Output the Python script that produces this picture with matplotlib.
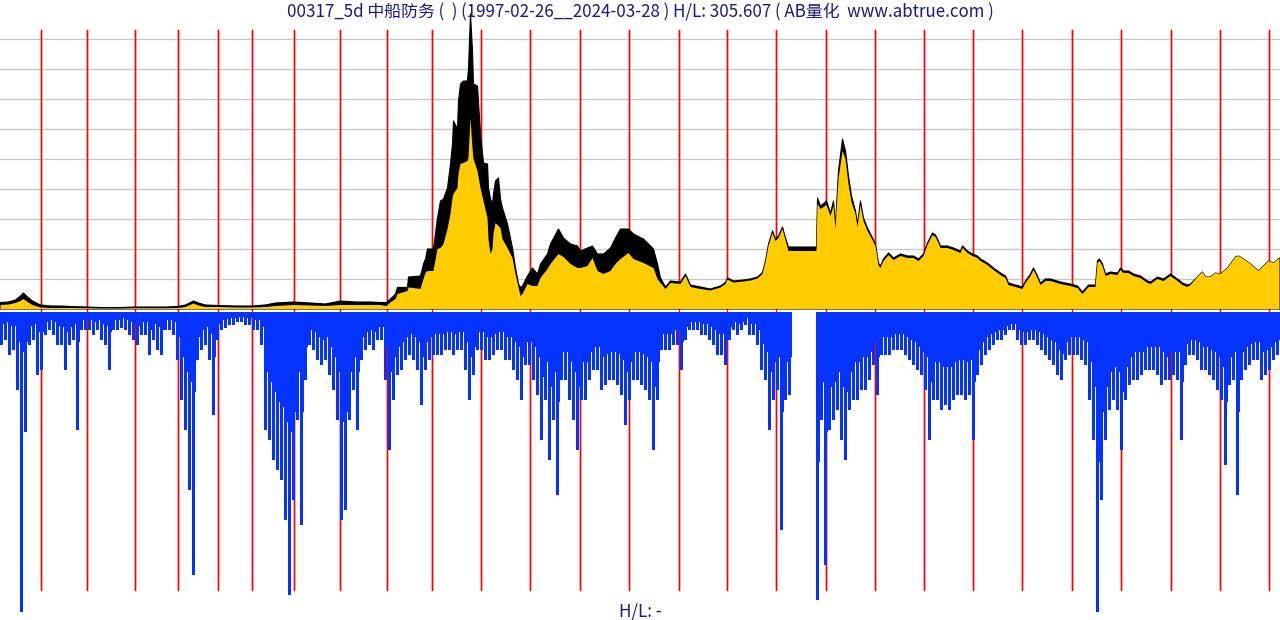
import matplotlib
matplotlib.use("Agg")
import matplotlib.pyplot as plt
import numpy as np

plt.rcParams['font.family'] = ['Noto Sans CJK SC', 'DejaVu Sans']

# ---------------- data ----------------
title = "00317_5d 中船防务 (  ) (1997-02-26__2024-03-28 ) H/L: 305.607 ( AB量化  www.abtrue.com )"
footer = "H/L: -"

# bar index where each calendar year (1998 ... 2024) starts
year_starts = [40, 86, 134, 177, 217, 251, 293, 339, 386, 431, 480, 529, 579, 628,
               678, 726, 775, 825, 874, 923, 972, 1021, 1071, 1120, 1170, 1219, 1268]

grid_levels = [30, 60, 90, 120, 150, 180, 210, 240, 270]

# price key points (bar index, high band, low band)
p_idx = [0, 8, 15, 20, 23, 27, 32, 40, 50, 60, 70, 86, 100, 120, 134, 150, 165, 177, 185, 193,
         198, 205, 217, 235, 251, 265, 275, 293, 310, 325, 340, 355, 370, 380, 386, 390, 395, 397,
         407, 408, 420, 423, 425, 427, 433, 437, 440, 443, 447, 450, 452, 453, 457, 458, 460, 463,
         467, 468, 470, 472, 473, 477, 480, 483, 487, 488, 490, 492, 493, 495, 498, 500, 502, 507,
         512, 515, 518, 520, 522, 527, 532, 537, 540, 547, 550, 558, 563, 570, 577, 580, 587, 592,
         597, 603, 610, 615, 620, 628, 633, 643, 653, 657, 660, 665, 670, 680, 685, 690, 700, 710,
         720, 725, 727, 733, 743, 750, 757, 762, 765, 768, 772, 775, 778, 782, 785, 788, 816, 817,
         820, 826, 830, 833, 835, 838, 842, 845, 848, 851, 855, 857, 860, 863, 867, 872, 875, 878,
         880, 883, 888, 893, 900, 907, 913, 918, 923, 927, 932, 935, 938, 940, 947, 953, 960, 962,
         967, 972, 977, 980, 987, 993, 1000, 1005, 1008, 1015, 1022, 1025, 1030, 1033, 1037, 1040,
         1045, 1050, 1060, 1070, 1077, 1082, 1088, 1095, 1097, 1099, 1102, 1105, 1110, 1117, 1120,
         1123, 1128, 1133, 1140, 1147, 1150, 1157, 1163, 1170, 1177, 1182, 1187, 1190, 1197, 1202,
         1205, 1210, 1215, 1220, 1227, 1230, 1235, 1238, 1243, 1250, 1258, 1263, 1268, 1273, 1279]

p_high = [6.5, 7, 9, 13, 16, 12, 8, 4, 3, 3, 2.5, 2, 1.5, 1.5, 2, 2, 2, 2.5, 4, 8,
          6, 4, 3.5, 3, 3, 4, 6, 7, 6, 5, 8, 7, 7, 6.5, 6.5, 10, 15, 21.6,
          21.6, 32, 33, 45, 50, 60, 60, 91, 108, 110, 121, 145, 165, 188, 180, 208, 225, 228,
          228, 241, 295, 258, 225, 223, 175, 146, 145, 121, 110, 105, 115, 128, 131, 110, 101, 85,
          61, 41, 25, 21.6, 23, 33, 41, 35, 45, 55, 65, 80, 71, 65, 63, 58, 61, 63,
          55, 55, 61, 71, 80, 80, 75, 70, 60, 45, 31, 22, 28, 27, 35, 24, 22, 20,
          23, 26.6, 31, 28, 29, 30, 32, 36.6, 48, 65, 78, 70, 73, 82, 71, 62, 62, 111,
          103, 108, 96, 108, 83, 138, 170, 158, 133, 113, 98, 85, 108, 91, 81, 71, 65, 46,
          43, 50, 56, 51, 55, 53, 53, 50, 55, 66, 76, 74, 68, 63, 63, 61, 58, 63,
          58, 55, 53, 50, 46, 41, 36, 33, 26, 24, 22, 28, 35, 41, 33, 26,
          30, 30, 27, 25, 23, 17, 24, 24, 48, 50, 45, 35, 37, 36, 41,
          38, 38, 35, 33, 28, 27, 32, 30, 35, 30, 26, 24, 25, 32, 37,
          32, 32, 36, 35, 41, 45, 52, 53, 50, 45, 38, 43, 48, 46, 51]

p_low = [4, 4.5, 6, 8, 10, 7, 4, 1.5, 1, 1, 1, 0.8, 0.5, 0.5, 0.8, 0.8, 0.8, 1, 2, 5.5,
         3.5, 2, 2, 1.5, 1.5, 2, 3, 4, 3.5, 3, 4, 4, 4, 4, 3, 6.6, 10, 15,
         18, 21.6, 20, 30, 36, 38, 38, 60, 61, 65, 80, 95, 111, 115, 121, 135, 145, 146,
         148, 151, 191, 161, 150, 138, 121, 108, 91, 70, 55, 60, 75, 86, 83, 81, 70, 61,
         51, 35, 22, 13, 15, 25, 23, 23, 31, 40, 45, 55, 52, 45, 41, 41, 43, 51,
         38, 35, 38, 45, 50, 56, 50, 46, 41, 30, 26, 20, 26, 25, 33, 22, 20, 18.5,
         21.5, 25, 29.5, 26.5, 27.5, 28.5, 30.5, 35, 46.5, 63, 76, 68, 71, 80, 69, 58, 58, 105,
         100, 104, 93, 103, 80, 130, 158, 150, 125, 107, 95, 82, 104, 88, 78, 69, 63, 44,
         41, 48, 54, 49, 53, 51, 51, 48, 53, 64, 74, 72, 66, 61, 61, 59, 56, 61,
         56, 53, 51, 48, 44, 39, 34, 31, 24, 22, 20, 26, 33, 39, 31, 24,
         28, 28, 25, 23, 21, 15, 22, 22, 46, 48, 43, 33, 35, 34, 39,
         36, 36, 33, 31, 26, 25, 30, 28, 33, 28, 24, 22, 24, 32, 37,
         32, 32, 36, 35, 41, 45, 52, 53, 50, 45, 38, 43, 48, 46, 51]

# volume per 4-bar group: peak value and the lowest (common) value of the group
vol_peak = [33, 28, 43, 38, 78, 300, 120, 33, 28, 63, 58, 23, 18, 23, 33, 33, 58, 33, 28, 118,
            18, 18, 18, 23, 18, 28, 33, 58, 18, 18, 16, 18, 23, 28, 33, 23, 23, 43, 28, 38,
            43, 18, 18, 23, 48, 88, 118, 178, 263, 48, 38, 33, 48, 103, 28, 18, 16, 13, 13, 10,
            10, 13, 13, 18, 18, 33, 118, 128, 148, 158, 168, 208, 283, 188, 108, 213, 68, 33, 38, 48,
            53, 48, 63, 78, 108, 208, 198, 108, 78, 118, 48, 38, 33, 38, 28, 28, 68, 138, 88, 63,
            58, 48, 43, 48, 58, 93, 58, 48, 43, 43, 43, 38, 38, 43, 38, 38, 58, 88, 63, 38,
            38, 48, 48, 43, 38, 38, 48, 48, 58, 68, 88, 53, 53, 68, 83, 128, 88, 148, 108, 183,
            68, 68, 88, 108, 138, 88, 88, 68, 58, 58, 78, 73, 68, 68, 73, 83, 113, 88, 68, 68,
            73, 78, 88, 138, 88, 38, 38, 38, 33, 33, 58, 28, 18, 18, 18, 23, 23, 28, 33, 43,
            43, 53, 28, 18, 23, 18, 13, 23, 23, 33, 58, 68, 118, 88, 78, 218, 88, 83, 0, 0,
            0, 0, 0, 0, 288, 108, 253, 118, 108, 98, 128, 148, 98, 88, 88, 78, 78, 68, 53, 83,
            43, 43, 43, 38, 38, 38, 43, 48, 53, 58, 63, 78, 128, 88, 88, 98, 93, 98, 88, 83,
            83, 88, 83, 128, 63, 53, 43, 38, 33, 28, 28, 23, 18, 18, 28, 33, 33, 28, 28, 33,
            38, 43, 48, 53, 63, 68, 48, 43, 43, 43, 48, 53, 88, 128, 300, 188, 128, 98, 88, 98,
            138, 88, 73, 68, 68, 63, 58, 58, 58, 63, 73, 68, 68, 63, 68, 128, 53, 43, 43, 48,
            58, 58, 63, 68, 78, 88, 153, 73, 68, 183, 68, 58, 53, 48, 48, 68, 63, 58, 48, 43]

vol_base = [12, 10, 14, 14, 30, 40, 30, 14, 12, 20, 20, 10, 8, 10, 14,
            15, 20, 15, 12, 30, 8, 8, 8, 10, 8, 12, 14, 20, 8, 8, 6, 8, 10, 12, 14, 10, 10, 18, 12, 15,
            18, 8, 8, 10,
            25, 45, 60, 70, 80, 25,
            18, 15, 22, 45, 12, 8, 7, 6, 6, 5, 5, 6, 6, 8, 8, 15,
            60, 70, 80, 90, 95, 110, 120, 100, 60, 100,
            35, 18, 20, 25, 28, 25, 35,
            45, 60, 110, 100, 60, 45,
            60, 25, 20, 18, 20, 15, 15,
            35, 60, 45, 35,
            30, 25, 22, 25, 30, 45, 30, 25, 22, 22, 22, 20, 20, 22, 20, 20, 30, 45,
            35, 20, 20, 25, 25, 22, 20, 20, 25, 25, 30, 35, 45, 30, 30,
            35, 45, 65, 50, 75, 60, 90, 40,
            40, 50, 60, 75, 50, 50, 40, 35, 35, 45, 42, 40, 40, 42, 48, 60, 50, 40, 40, 42, 45, 50, 75, 50,
            22, 22, 22, 18, 18, 30, 15, 10, 10, 10, 12, 12, 15, 18, 22, 22, 28, 15, 10, 12, 10, 6, 12, 12, 18,
            32, 40, 60, 50, 45, 100, 50, 45,
            0, 0, 0, 0, 0, 0,
            150, 70, 120, 75, 70, 60, 75, 80, 60, 50, 50, 45, 45, 40, 30, 45,
            25, 25, 25, 22, 22, 22, 25, 28, 30, 35,
            40, 45, 70, 50, 50, 55, 55, 55, 50, 48, 48, 50, 48, 70,
            38, 30, 25, 22, 20, 18, 18, 14, 12, 12, 18, 20, 20, 18, 18, 20, 22, 25,
            28, 30, 38, 42, 30, 25, 25, 25, 28, 30,
            50, 75, 150, 100, 75, 60,
            55, 60, 80, 55, 45, 40, 40, 40, 35, 35, 35, 35, 40, 45, 40, 40, 40, 70,
            32, 28, 28, 30, 35, 35, 38, 40, 45, 55, 90, 45, 40, 100, 40, 35, 32, 30, 30, 40, 38, 35, 30, 28]
vol_group = 4

# ---------------- style ----------------
W, H = 1280, 620
TEXT_C = '#1c1c78'
RED = '#ff0000'
GRID_C = '#c8c8c8'
YELLOW = '#ffcc00'
BLUE = '#0433ff'

fig = plt.figure(figsize=(W / 100, H / 100), dpi=100)


def px_axes(top, bottom):
    return fig.add_axes([0, (H - bottom) / H, 1, (bottom - top) / H])


# background axes for the year separators (spans the whole drawing height)
bg = px_axes(30, 590)
bg.set_xlim(0, W)
bg.set_ylim(0, 1)
bg.axis('off')
for xs in year_starts:
    bg.axvline(xs + 0.5, color=RED, lw=1, zorder=0)

# price panel
ax = px_axes(8.5, 308.5)
ax.set_xlim(0, W)
ax.set_ylim(0, 300)
ax.patch.set_alpha(0)
for s in ax.spines.values():
    s.set_visible(False)
ax.set_xticks([])
ax.set_yticks([])
for g in grid_levels:
    ax.axhline(g, color=GRID_C, lw=1, zorder=0)
top_frac = (308.5 - 30) / 300
for xs in year_starts:
    ax.axvline(xs + 0.5, ymin=0, ymax=top_frac, color=RED, lw=1, zorder=1)
ax.fill_between(p_idx, 0, p_high, color='black', lw=0.8, edgecolor='black', zorder=2)
ax.fill_between(p_idx, 0, p_low, color=YELLOW, lw=0, zorder=3)

# volume panel
av = px_axes(312, 612)
av.set_xlim(0, W)
av.set_ylim(300, 0)
av.patch.set_alpha(0)
for s in av.spines.values():
    s.set_visible(False)
av.set_xticks([])
av.set_yticks([])
bot_frac = (612 - 590) / 300
for xs in year_starts:
    av.axvline(xs + 0.5, ymin=bot_frac, ymax=1, color=RED, lw=1, zorder=1)
vx = np.arange(len(vol_peak)) * vol_group
av.bar(vx, vol_base, width=vol_group, align='edge', color=BLUE, lw=0, zorder=2)
av.bar(vx, vol_peak, width=3, align='edge', color=BLUE, lw=0, zorder=2)

fig.text(0.5, 1 - 12 / H, title, ha='center', va='center', fontsize=12.2, color=TEXT_C)
fig.text(0.5, 1 - 611 / H, footer, ha='center', va='center', fontsize=12.2, color=TEXT_C)

fig.savefig('out.png', dpi=100)
